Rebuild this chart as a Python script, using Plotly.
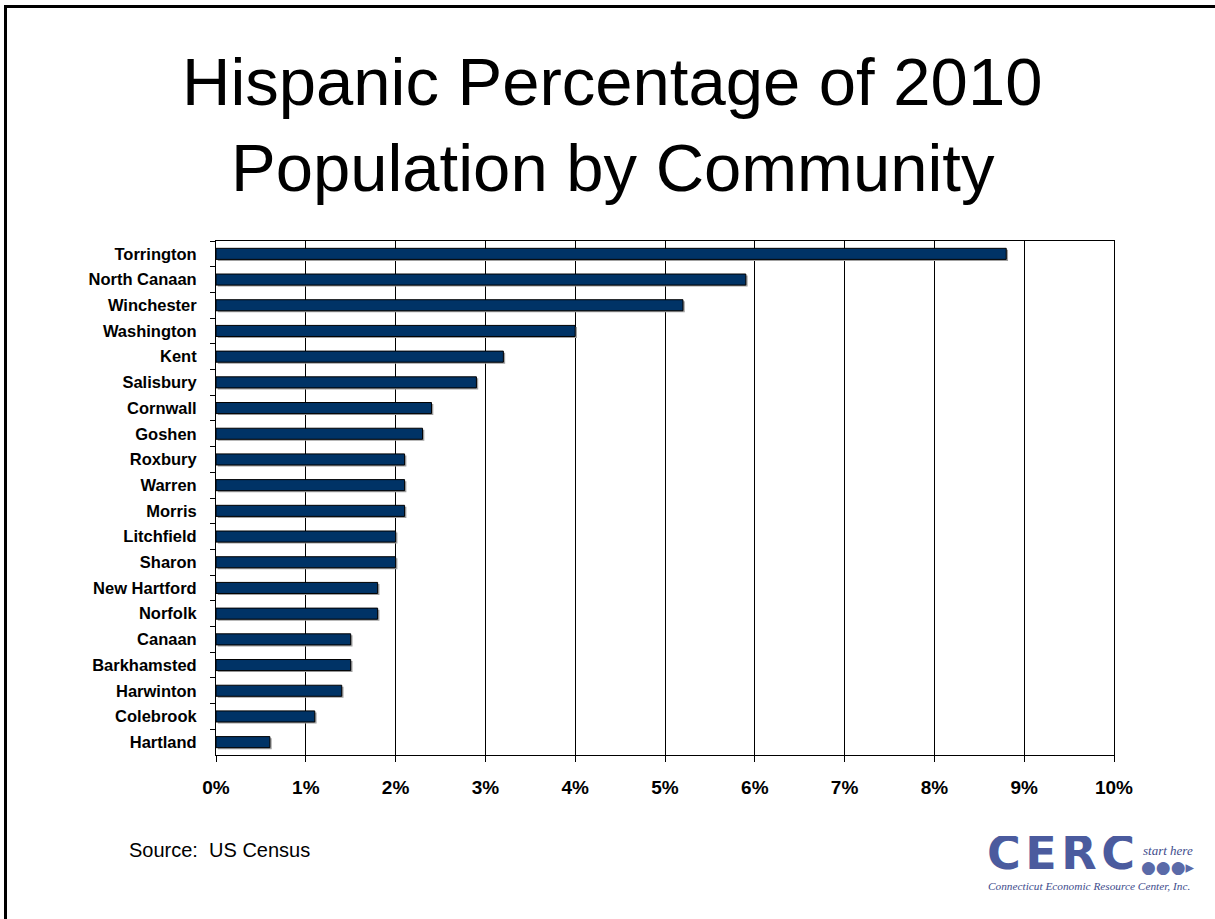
import plotly.graph_objects as go

communities = ["Torrington", "North Canaan", "Winchester", "Washington", "Kent",
               "Salisbury", "Cornwall", "Goshen", "Roxbury", "Warren", "Morris",
               "Litchfield", "Sharon", "New Hartford", "Norfolk", "Canaan",
               "Barkhamsted", "Harwinton", "Colebrook", "Hartland"]
hispanic_pct = [8.8, 5.9, 5.2, 4.0, 3.2, 2.9, 2.4, 2.3, 2.1, 2.1, 2.1,
                2.0, 2.0, 1.8, 1.8, 1.5, 1.5, 1.4, 1.1, 0.6]
x_ticks = list(range(0, 11))
x_tick_labels = [f"{v}%" for v in x_ticks]

title_lines = ["Hispanic Percentage of 2010", "Population by Community"]
source_text = "Source:\u00a0 US Census"

W, H = 1215, 919
L, R, T, B = 216, 1114, 241, 755
FONT = "Liberation Sans, Arial, sans-serif"


def px(x):
    return (x - L) / (R - L)


def py(y):
    return (B - y) / (B - T)


fig = go.Figure()
# shadow
fig.add_trace(go.Bar(
    y=communities, x=hispanic_pct, orientation="h", base=0.02,
    width=0.43, offset=-0.215 + 0.06,
    marker=dict(color="#a0a0a0", line=dict(width=0)),
    hoverinfo="skip", showlegend=False,
))
fig.add_trace(go.Bar(
    y=communities, x=hispanic_pct, orientation="h",
    width=0.43,
    marker=dict(color="#003366", line=dict(color="#000000", width=1)),
    showlegend=False,
))

annotations = [
    dict(text=title_lines[0], x=px(612), y=py(81), xref="paper", yref="paper",
         xanchor="center", yanchor="middle", showarrow=False,
         font=dict(family=FONT, size=67, color="#000000")),
    dict(text=title_lines[1], x=px(613), y=py(167), xref="paper", yref="paper",
         xanchor="center", yanchor="middle", showarrow=False,
         font=dict(family=FONT, size=67, color="#000000")),
    dict(text=source_text, x=px(127), y=py(850), xref="paper", yref="paper",
         xanchor="left", yanchor="middle", showarrow=False,
         font=dict(family=FONT, size=20, color="#000000")),
    # logo approximation
    dict(text="<b>C\u200aE\u200aR\u200aC</b>", x=px(985), y=py(853), xref="paper", yref="paper",
         xanchor="left", yanchor="middle", showarrow=False, height=34,
         font=dict(family="DejaVu Sans, sans-serif", size=46, color="#4b5b9e")),
    dict(text="<i>start here</i>", x=px(1141), y=py(850), xref="paper", yref="paper",
         xanchor="left", yanchor="middle", showarrow=False,
         font=dict(family="Liberation Serif, serif", size=13, color="#3e4c8c")),
    dict(text="\u25cf\u25cf\u25cf\u25b8", x=px(1139), y=py(867), xref="paper", yref="paper",
         xanchor="left", yanchor="middle", showarrow=False,
         font=dict(family="DejaVu Sans, sans-serif", size=17, color="#5a6aa8")),
    dict(text="<i>Connecticut Economic Resource Center, Inc.</i>", x=px(1089), y=py(886),
         xref="paper", yref="paper", xanchor="center", yanchor="middle", showarrow=False,
         font=dict(family="Liberation Serif, serif", size=11.3, color="#3e4c8c")),
]

shapes = [
    dict(type="rect", xref="paper", yref="paper",
         x0=px(5.5), x1=px(1230), y0=py(6.5), y1=py(935),
         line=dict(color="#000000", width=3), fillcolor="rgba(0,0,0,0)", layer="above"),
]

fig.update_layout(
    width=W, height=H,
    margin=dict(l=L, r=W - R, t=T, b=H - B, autoexpand=False),
    paper_bgcolor="#ffffff", plot_bgcolor="#ffffff",
    barmode="overlay",
    annotations=annotations, shapes=shapes,
    font=dict(family=FONT, color="#000000"),
)
fig.update_xaxes(
    range=[0, 10], tickvals=x_ticks, ticktext=x_tick_labels,
    showgrid=True, gridcolor="#000000", gridwidth=1,
    showline=True, linecolor="#000000", linewidth=1, mirror=True,
    ticks="outside", ticklen=6, tickcolor="#000000", tickwidth=1,
    ticklabelstandoff=9,
    tickfont=dict(family=FONT, size=19, color="#000000", weight="bold"),
    zeroline=False, fixedrange=True,
)
fig.update_yaxes(
    categoryorder="array", categoryarray=communities, autorange="reversed",
    showgrid=False, showline=True, linecolor="#000000", linewidth=1, mirror=True,
    ticks="outside", tickson="boundaries", ticklen=5, tickcolor="#000000",
    ticklabelstandoff=15,
    tickfont=dict(family=FONT, size=16.5, color="#000000", weight="bold"),
    fixedrange=True,
)

fig.write_html(
    "out.html",
    config={"displayModeBar": False, "staticPlot": True},
    post_script="document.body.style.margin='0';document.body.style.overflow='hidden';",
)
